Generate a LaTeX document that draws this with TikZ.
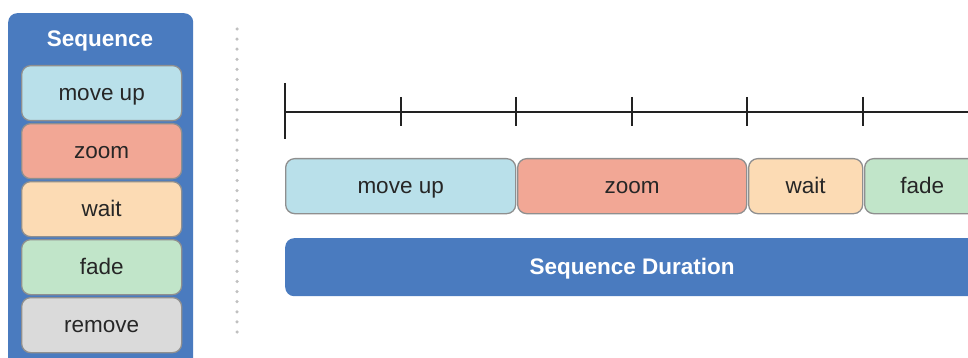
\documentclass[tikz,border=0pt]{standalone}
\usepackage{fontspec}
\setmainfont{Liberation Sans}
\definecolor{seqblue}{HTML}{4A7BBF}
\definecolor{moveup}{HTML}{B9E0EA}
\definecolor{zoomc}{HTML}{F2A795}
\definecolor{waitc}{HTML}{FCDBB4}
\definecolor{fadec}{HTML}{C1E5C9}
\definecolor{removec}{HTML}{DADADA}
\definecolor{segline}{HTML}{8F8F8F}
\definecolor{dotcol}{HTML}{C0C0C0}
\definecolor{axis}{HTML}{222222}
\tikzset{
  big/.style={font=\fontsize{22.5}{26}\selectfont},
  seg/.style={big, draw=segline, line width=1.3pt, rounded corners=9pt, inner sep=0pt,
              text=black!85, anchor=north west, minimum height=55pt,
              text height=18pt, text depth=3pt},
}
\begin{document}
\begin{tikzpicture}[x=1pt,y=-1pt]
            \useasboundingbox (0,0) rectangle (968,358);
            \clip (0,0) rectangle (968,358);
            % sequence column
            \node [fill=seqblue, rounded corners=9pt, anchor=north west, minimum width=185pt,
                   minimum height=360pt, inner sep=0pt](seq) at (8,13) {};
            \node [big, text=white, font=\fontsize{22.5}{26}\selectfont\bfseries](title) at (100,41) {Sequence};
            \foreach \name/\col/\txt [count=\i from 0] in
                {lmove/moveup/move up, lzoom/zoomc/zoom, lwait/waitc/wait, lfade/fadec/fade, lremove/removec/remove}
                \node [seg, fill=\col, minimum width=160pt](\name) at (21,65+58*\i) {\txt};
            %
            \draw [dotcol, line width=3.5pt, line cap=round, dash pattern=on 0pt off 10.1pt] (237,29) -- (237,342);
            % time axis
            \coordinate (t0) at (285,112);
            \coordinate (tend) at (990,112);
            \draw [axis, line width=1.8pt] (t0) -- (tend);
            \draw [axis, line width=1.8pt] (285,83) -- (285,139);
            \foreach \x in {401,516,632,747,863}
                \draw [axis, line width=1.8pt] (\x,97) -- (\x,126);
            % segments
            \node [seg, fill=moveup, minimum width=230pt](smove) at (285,158) {move up};
            \node [seg, fill=zoomc, minimum width=229pt](szoom) at (517,158) {zoom};
            \node [seg, fill=waitc, minimum width=114pt](swait) at (748,158) {wait};
            \node [seg, fill=fadec, minimum width=115pt](sfade) at (864,158) {fade};
            %
            \node [fill=seqblue, rounded corners=9pt, anchor=north west, minimum width=694pt,
                   minimum height=58pt, inner sep=0pt, text=white, text height=18pt, text depth=3pt,
                   font=\fontsize{22.5}{26}\selectfont\bfseries](dur) at (285,238) {Sequence Duration};
        \end{tikzpicture}
\end{document}
